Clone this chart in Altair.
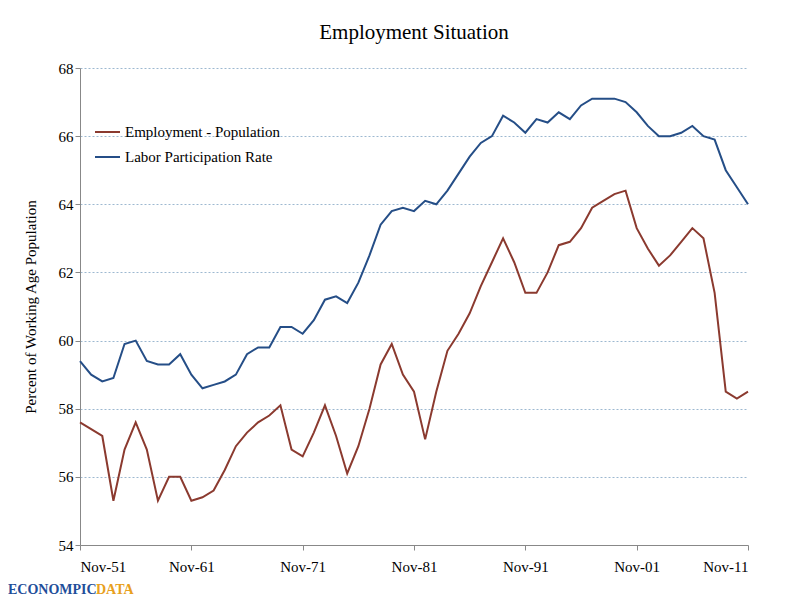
import pandas as pd
import altair as alt

years = list(range(1951, 2012))
epop = [57.6, 57.4, 57.2, 55.3, 56.8, 57.6, 56.8, 55.3, 56.0, 56.0,
        55.3, 55.4, 55.6, 56.2, 56.9, 57.3, 57.6, 57.8, 58.1, 56.8,
        56.6, 57.3, 58.1, 57.2, 56.1, 56.9, 58.0, 59.3, 59.9, 59.0,
        58.5, 57.1, 58.5, 59.7, 60.2, 60.8, 61.6, 62.3, 63.0, 62.3,
        61.4, 61.4, 62.0, 62.8, 62.9, 63.3, 63.9, 64.1, 64.3, 64.4,
        63.3, 62.7, 62.2, 62.5, 62.9, 63.3, 63.0, 61.4, 58.5, 58.3, 58.5]
lfpr = [59.4, 59.0, 58.8, 58.9, 59.9, 60.0, 59.4, 59.3, 59.3, 59.6,
        59.0, 58.6, 58.7, 58.8, 59.0, 59.6, 59.8, 59.8, 60.4, 60.4,
        60.2, 60.6, 61.2, 61.3, 61.1, 61.7, 62.5, 63.4, 63.8, 63.9,
        63.8, 64.1, 64.0, 64.4, 64.9, 65.4, 65.8, 66.0, 66.6, 66.4,
        66.1, 66.5, 66.4, 66.7, 66.5, 66.9, 67.1, 67.1, 67.1, 67.0,
        66.7, 66.3, 66.0, 66.0, 66.1, 66.3, 66.0, 65.9, 65.0, 64.5, 64.0]

names = ["Employment - Population", "Labor Participation Rate"]
colors = ["#8B3A2F", "#254E87"]
font = "Liberation Serif"

dates = [pd.Timestamp(y, 11, 1) for y in years]
df = pd.concat([
    pd.DataFrame({"date": dates, "value": epop, "series": names[0]}),
    pd.DataFrame({"date": dates, "value": lfpr, "series": names[1]}),
])

ticks = [pd.Timestamp(y, 11, 1) for y in range(1951, 2012, 10)]

lines = alt.Chart(df).mark_line(strokeWidth=2).encode(
    x=alt.X("date:T", title=None,
            scale=alt.Scale(domain=[ticks[0], ticks[-1]]),
            axis=alt.Axis(values=ticks, format="%b-%y", grid=False,
                          labelFontSize=15, labelPadding=9, tickColor="#888",
                          domainColor="#888")),
    y=alt.Y("value:Q", title="Percent of Working Age Population",
            scale=alt.Scale(domain=[54, 68], nice=False),
            axis=alt.Axis(values=list(range(54, 69, 2)), labelFontSize=15,
                          titleFontSize=15, titleFontWeight="normal",
                          titlePadding=20, gridDash=[2, 2],
                          gridColor="#9db8d0", domainColor="#888",
                          tickColor="#888")),
    color=alt.Color("series:N", scale=alt.Scale(domain=names, range=colors),
                    legend=None),
)

leg = pd.DataFrame({"series": names, "y": [64, 89]})
leg_lines = alt.Chart(leg).mark_rule(strokeWidth=2).encode(
    x=alt.value(15), x2=alt.value(40), y=alt.Y("y:Q", scale=None),
    color=alt.Color("series:N", scale=alt.Scale(domain=names, range=colors),
                    legend=None))
leg_text = alt.Chart(leg).mark_text(align="left", baseline="middle",
                                    fontSize=15, font=font).encode(
    x=alt.value(45), y=alt.Y("y:Q", scale=None), text="series:N")

logo = pd.DataFrame({"t": ["ECONOMPIC", "DATA"], "x": [-72, 16], "c": ["#1f4e9a", "#e8a020"]})
logo_text = alt.Chart(logo).mark_text(align="left", baseline="middle", fontSize=14,
                                      fontWeight="bold", font=font).encode(
    x=alt.X("x:Q", scale=None), y=alt.value(522), text="t:N",
    color=alt.Color("c:N", scale=None))

chart = alt.layer(lines, leg_lines, leg_text, logo_text).properties(
    width=668, height=477,
    autosize="none",
    padding={"left": 72, "top": 60, "right": 44, "bottom": 55},
    title=alt.TitleParams("Employment Situation", fontSize=21, fontWeight="normal",
                          font=font, offset=18),
).configure_axis(labelFont=font, titleFont=font).configure_view(stroke=None)

chart.save("out.html", embed_options={"renderer": "svg", "actions": False})
